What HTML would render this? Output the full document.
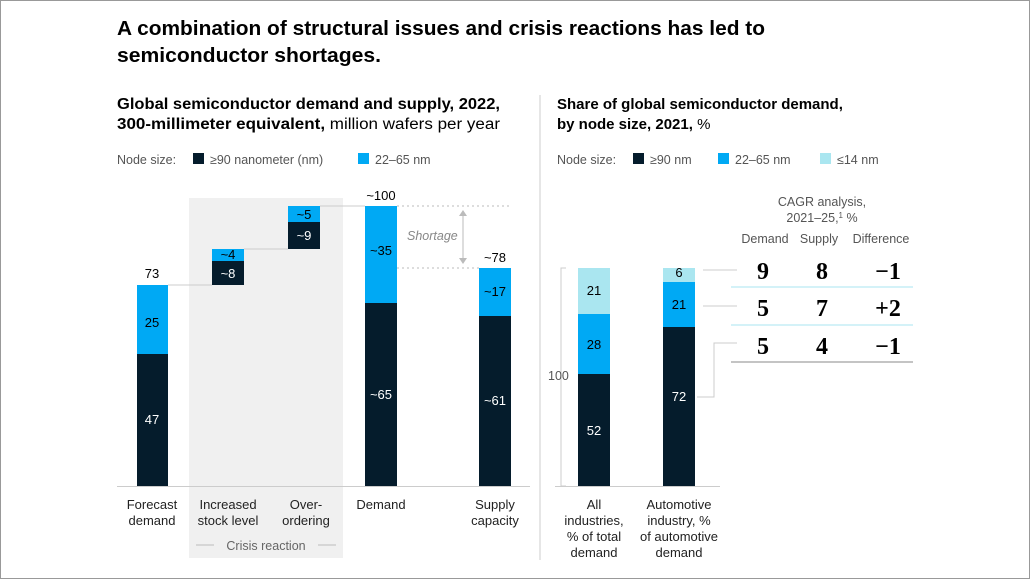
<!DOCTYPE html>
<html><head><meta charset="utf-8"><style>
body{margin:0;background:#fff;}
svg{display:block;font-family:"Liberation Sans",sans-serif;}
</style></head><body>
<svg width="1030" height="579" viewBox="0 0 1030 579">
<rect x="0.5" y="0.5" width="1029" height="578" fill="#fff" stroke="#999"/>
<text x="117" y="35" font-size="20.5" font-weight="bold" fill="#000" textLength="648" lengthAdjust="spacingAndGlyphs">A combination of structural issues and crisis reactions has led to</text>
<text x="117" y="62" font-size="20.5" font-weight="bold" fill="#000" textLength="264" lengthAdjust="spacingAndGlyphs">semiconductor shortages.</text>
<text x="117" y="109" font-size="15.5" font-weight="bold" fill="#000" textLength="383" lengthAdjust="spacingAndGlyphs">Global semiconductor demand and supply, 2022,</text>
<text x="117" y="129" font-size="15.5" fill="#000" textLength="383" lengthAdjust="spacingAndGlyphs"><tspan font-weight="bold">300-millimeter equivalent,</tspan> million wafers per year</text>
<text x="557" y="109" font-size="15" font-weight="bold" fill="#000">Share of global semiconductor demand,</text>
<text x="557" y="129" font-size="15" fill="#000"><tspan font-weight="bold">by node size, 2021,</tspan> %</text>
<g font-size="12.5" fill="#555">
<text x="117" y="164">Node size:</text>
<rect x="193" y="153" width="11" height="11" fill="#051c2c"/><text x="210" y="164">≥90 nanometer (nm)</text>
<rect x="358" y="153" width="11" height="11" fill="#00a9f4"/><text x="375" y="164">22–65 nm</text>
<text x="557" y="164">Node size:</text>
<rect x="633" y="153" width="11" height="11" fill="#051c2c"/><text x="650" y="164">≥90 nm</text>
<rect x="718" y="153" width="11" height="11" fill="#00a9f4"/><text x="735" y="164">22–65 nm</text>
<rect x="820" y="153" width="11" height="11" fill="#aae6f0"/><text x="837" y="164">≤14 nm</text>
</g>
<rect x="189" y="198" width="154" height="360" fill="#f0f0f0"/>
<line x1="540" y1="95" x2="540" y2="560" stroke="#ccc"/>
<g stroke="#ccc" stroke-width="1">
<line x1="168" y1="285" x2="212" y2="285"/>
<line x1="244" y1="249" x2="288" y2="249"/>
<line x1="320" y1="206" x2="365" y2="206"/>
</g>
<g stroke="#bbb" stroke-dasharray="2,3">
<line x1="397" y1="206" x2="512" y2="206"/>
<line x1="397" y1="268" x2="479" y2="268"/>
</g>
<line x1="463" y1="212" x2="463" y2="262" stroke="#bbb"/>
<path d="M459 216 L463 210 L467 216 Z M459 258 L463 264 L467 258 Z" fill="#bbb"/>
<text x="407" y="240" font-size="12.5" font-style="italic" fill="#888">Shortage</text>
<rect x="137" y="285" width="31" height="69" fill="#00a9f4"/>
<rect x="137" y="354" width="31" height="132" fill="#051c2c"/>
<rect x="212" y="249" width="32" height="12" fill="#00a9f4"/>
<rect x="212" y="261" width="32" height="24" fill="#051c2c"/>
<rect x="288" y="206" width="32" height="16" fill="#00a9f4"/>
<rect x="288" y="222" width="32" height="27" fill="#051c2c"/>
<rect x="365" y="206" width="32" height="97" fill="#00a9f4"/>
<rect x="365" y="303" width="32" height="183" fill="#051c2c"/>
<rect x="479" y="268" width="32" height="48" fill="#00a9f4"/>
<rect x="479" y="316" width="32" height="170" fill="#051c2c"/>
<line x1="117" y1="486.5" x2="530" y2="486.5" stroke="#ccc"/>
<g font-size="13" text-anchor="middle" fill="#000">
<text x="152" y="278">73</text>
<text x="152" y="327">25</text>
<text x="152" y="424" fill="#fff">47</text>
<text x="228" y="259">~4</text>
<text x="228" y="278" fill="#fff">~8</text>
<text x="304" y="219">~5</text>
<text x="304" y="240" fill="#fff">~9</text>
<text x="381" y="200">~100</text>
<text x="381" y="255">~35</text>
<text x="381" y="399" fill="#fff">~65</text>
<text x="495" y="262">~78</text>
<text x="495" y="296">~17</text>
<text x="495" y="405" fill="#fff">~61</text>
</g>
<g font-size="13" text-anchor="middle" fill="#222">
<text x="152" y="509">Forecast</text><text x="152" y="525">demand</text>
<text x="228" y="509">Increased</text><text x="228" y="525">stock level</text>
<text x="306" y="509">Over-</text><text x="306" y="525">ordering</text>
<text x="381" y="509">Demand</text>
<text x="495" y="509">Supply</text><text x="495" y="525">capacity</text>
</g>
<line x1="196" y1="545" x2="214" y2="545" stroke="#bbb"/>
<line x1="318" y1="545" x2="336" y2="545" stroke="#bbb"/>
<text x="266" y="550" font-size="12.5" text-anchor="middle" fill="#666">Crisis reaction</text>
<path d="M566 268 H561 V486 H566" fill="none" stroke="#ccc"/>
<text x="548" y="380" font-size="12.5" fill="#555">100</text>
<rect x="578" y="268" width="32" height="46" fill="#aae6f0"/>
<rect x="578" y="314" width="32" height="60" fill="#00a9f4"/>
<rect x="578" y="374" width="32" height="112" fill="#051c2c"/>
<rect x="663" y="268" width="32" height="14" fill="#aae6f0"/>
<rect x="663" y="282" width="32" height="45" fill="#00a9f4"/>
<rect x="663" y="327" width="32" height="159" fill="#051c2c"/>
<line x1="555" y1="486.5" x2="720" y2="486.5" stroke="#ccc"/>
<g font-size="13" text-anchor="middle" fill="#000">
<text x="594" y="295">21</text>
<text x="594" y="349">28</text>
<text x="594" y="435" fill="#fff">52</text>
<text x="679" y="277">6</text>
<text x="679" y="309">21</text>
<text x="679" y="401" fill="#fff">72</text>
</g>
<g font-size="13" text-anchor="middle" fill="#222">
<text x="594" y="509">All</text><text x="594" y="525">industries,</text><text x="594" y="541">% of total</text><text x="594" y="557">demand</text>
<text x="679" y="509">Automotive</text><text x="679" y="525">industry, %</text><text x="679" y="541">of automotive</text><text x="679" y="557">demand</text>
</g>
<g stroke="#ccc" fill="none">
<line x1="703" y1="270" x2="737" y2="270"/>
<line x1="703" y1="306" x2="737" y2="306"/>
<path d="M697 397 H714 V343 H737"/>
</g>
<g font-size="12.5" fill="#555" text-anchor="middle">
<text x="822" y="206">CAGR analysis,</text>
<text x="822" y="222">2021–25,<tspan font-size="8" dy="-4">1</tspan><tspan dy="4"> %</tspan></text>
<text x="765" y="243">Demand</text>
<text x="819" y="243">Supply</text>
<text x="881" y="243">Difference</text>
</g>
<g font-family="'Liberation Serif',serif" font-size="24" font-weight="bold" text-anchor="middle" fill="#000">
<text x="763" y="279">9</text><text x="822" y="279">8</text><text x="888" y="279">−1</text>
<text x="763" y="316">5</text><text x="822" y="316">7</text><text x="888" y="316">+2</text>
<text x="763" y="354">5</text><text x="822" y="354">4</text><text x="888" y="354">−1</text>
</g>
<line x1="731" y1="287" x2="913" y2="287" stroke="#aae6f0"/>
<line x1="731" y1="325" x2="913" y2="325" stroke="#aae6f0"/>
<line x1="731" y1="362" x2="913" y2="362" stroke="#888"/>
</svg>
</body></html>
